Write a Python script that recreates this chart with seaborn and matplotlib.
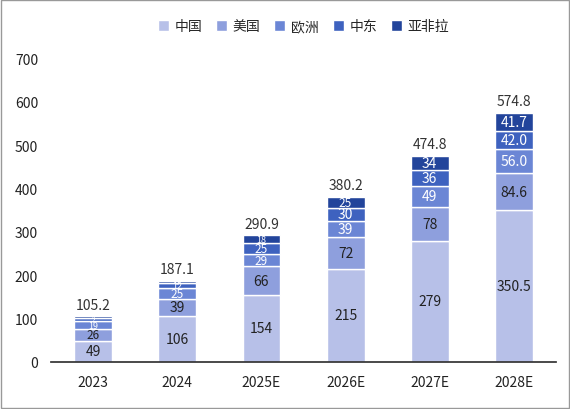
import numpy as np
import pandas as pd
import matplotlib.pyplot as plt
import seaborn as sns

years = ["2023", "2024", "2025E", "2026E", "2027E", "2028E"]
series = ["中国", "美国", "欧洲", "中东", "亚非拉"]
china = [49, 106, 154, 215, 279, 350.5]
usa = [26, 39, 66, 72, 78, 84.6]
europe = [19, 25, 29, 39, 49, 56.0]
mideast = [7, 12, 25, 30, 36, 42.0]
others = [4, 5, 18, 25, 34, 41.7]
totals = [105.2, 187.1, 290.9, 380.2, 474.8, 574.8]
labels = [
    ["49", "106", "154", "215", "279", "350.5"],
    ["26", "39", "66", "72", "78", "84.6"],
    ["19", "25", "29", "39", "49", "56.0"],
    ["7", "12", "25", "30", "36", "42.0"],
    ["4", "5", "18", "25", "34", "41.7"],
]
colors = ["#b7c0e8", "#8e9fdd", "#6b86d5", "#3e62bf", "#22449b"]
text_colors = ["#222222", "#222222", "white", "white", "white"]

sns.set_theme(style="white")
plt.rcParams["font.family"] = ["Noto Sans CJK SC", "DejaVu Sans"]

fig, ax = plt.subplots(figsize=(5.7, 4.1), dpi=100)
data = [china, usa, europe, mideast, others]
bottom = np.zeros(len(years))
for vals, name, c, tc, labs in zip(data, series, colors, text_colors, labels):
    ax.bar(years, vals, bottom=bottom, color=c, width=0.45, label=name)
    for i, (v, lab) in enumerate(zip(vals, labs)):
        if v >= 30:
            fs = 10
        elif v >= 22:
            fs = 8.5
        elif v >= 10:
            fs = 6.5
        else:
            fs = 4.5
        ax.text(i, bottom[i] + v / 2, lab, ha="center", va="center",
                color=tc, fontsize=fs)
    bottom += np.array(vals)
for i, t in enumerate(totals):
    ax.text(i, bottom[i] + 10, f"{t:.1f}", ha="center", va="bottom",
            fontsize=10, color="#333333")

ax.set_ylim(0, 700)
ax.set_yticks(range(0, 701, 100))
ax.tick_params(labelsize=10, colors="#222222")
sns.despine(ax=ax, top=True, right=True, left=True)
ax.spines["bottom"].set_color("#333333")
ax.legend(loc="upper center", bbox_to_anchor=(0.5, 1.17), ncol=5,
          frameon=False, fontsize=10, handlelength=0.8, handleheight=0.8,
          columnspacing=1.0, handletextpad=0.4)
fig.patches.append(plt.Rectangle((0.002, 0.002), 0.996, 0.996, transform=fig.transFigure,
                                 fill=False, edgecolor="#999999", linewidth=1))
fig.subplots_adjust(left=0.09, right=0.975, top=0.855, bottom=0.115)
fig.savefig("out.png")
